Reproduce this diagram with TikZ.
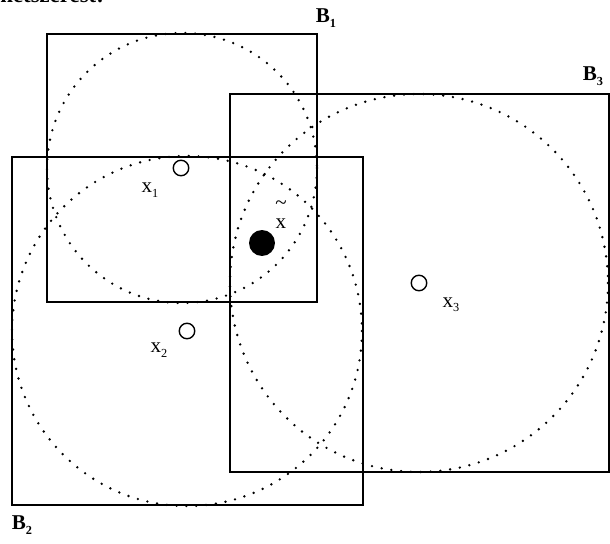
\documentclass[tikz,border=0pt]{standalone}
\usepackage{fontspec}
\setmainfont{Liberation Serif}
\begin{document}
\begin{tikzpicture}[x=0.02cm,y=-0.02cm,
	box/.style={draw,line width=0.8pt},
	overlap/.style={draw,line width=1.7pt},
	ball/.style={draw,line width=1.5pt,dash pattern=on 0pt off 5.6pt,line cap=round},
	point/.style={circle,draw,fill=white,line width=0.8pt,inner sep=0pt,minimum size=0.31cm},
	best/.style={circle,fill=black,inner sep=0pt,minimum size=0.52cm},
	lab/.style={inner sep=0pt,font=\fontsize{12}{14}\selectfont},
	boxlab/.style={inner sep=0pt,font=\fontsize{12}{14}\selectfont\bfseries}]
	\clip (0,0) rectangle (610,544);
	\useasboundingbox (0,0) rectangle (610,544);
	
	\node[anchor=base west,inner sep=0pt,font=\fontsize{13}{15}\selectfont\bfseries] (head) at (0,3) {netszerest:};
	
	\draw[ball] (182,168) circle[radius=135];
	\draw[ball] (187,331) circle[radius=175];
	\draw[ball] (419,283) circle[radius=189];
	
	\draw[box] (47,34) rectangle (317,302);
	\draw[box] (12,157) rectangle (363,505);
	\draw[box] (230,94) rectangle (609,472);
	\draw[overlap] (230,157) rectangle (317,302);
	
	\node[point] (x1) at (181,168) {};
	\node[point] (x2) at (187,331) {};
	\node[point] (x3) at (419,283) {};
	\node[best] (xt) at (262,243) {};
	
	\node[lab] (x1lab) at (150,190) {x\raisebox{-0.45ex}{\scriptsize 1}};
	\node[lab] (x2lab) at (159,350) {x\raisebox{-0.45ex}{\scriptsize 2}};
	\node[lab] (x3lab) at (451,305) {x\raisebox{-0.45ex}{\scriptsize 3}};
	\node[lab,label={[lab,label distance=5pt]above:\textasciitilde}] (xtlab) at (281,224) {x};
	
	\node[boxlab] (b1lab) at (326,18) {B\raisebox{-0.45ex}{\scriptsize 1}};
	\node[boxlab] (b2lab) at (22,525) {B\raisebox{-0.45ex}{\scriptsize 2}};
	\node[boxlab] (b3lab) at (593,76) {B\raisebox{-0.45ex}{\scriptsize 3}};
\end{tikzpicture}
\end{document}
